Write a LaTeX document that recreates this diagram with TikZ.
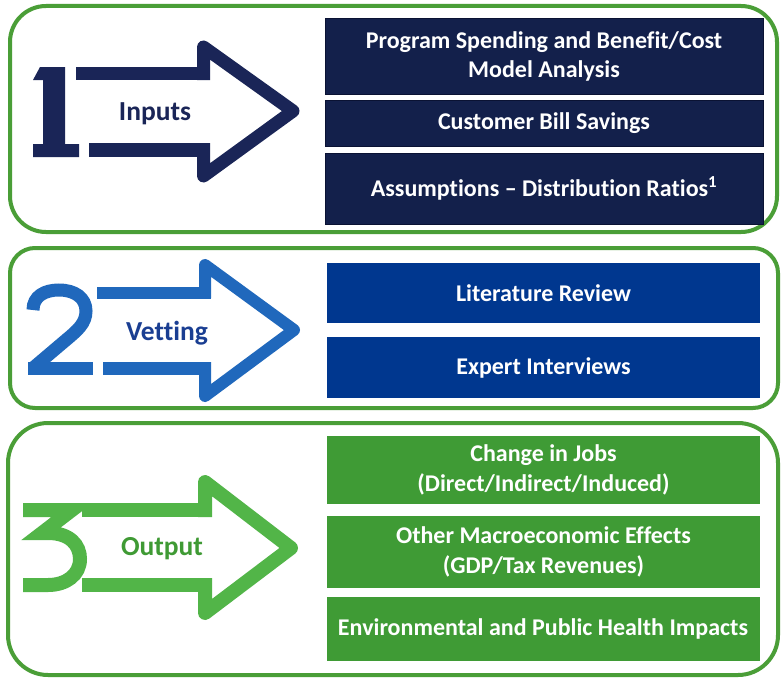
\documentclass[tikz,border=0pt]{standalone}
\usepackage{fontspec}
\setmainfont{Carlito}[Ligatures=NoCommon]
\definecolor{panelgreen}{HTML}{4A9E37}
\definecolor{navybox}{HTML}{13204B}
\definecolor{navyedge}{HTML}{0A1233}
\definecolor{navyarrow}{HTML}{1A2557}
\definecolor{bluebox}{HTML}{00378F}
\definecolor{bluearrow}{HTML}{2068BC}
\definecolor{bluetext}{HTML}{1A3E92}
\definecolor{greenbox}{HTML}{3F9B35}
\definecolor{greenarrow}{HTML}{52B548}
\definecolor{greentext}{HTML}{3F9A34}
\begin{document}
\begin{tikzpicture}[x=1pt,y=-1pt,
  panel/.style={draw=panelgreen,line width=4},
  box/.style={rectangle,inner sep=0,align=center,text=white,
    font=\bfseries\fontsize{24}{29.5}\selectfont},
  navy/.style={box,fill=navybox,draw=navyedge,line width=1},
  blue/.style={box,fill=bluebox},
  green/.style={box,fill=greenbox},
  label/.style={font=\bfseries\fontsize{27.5}{31}\selectfont,inner sep=0},
  head/.style={line join=round,line cap=butt},
  digit/.style={line join=miter,line cap=butt}]
\useasboundingbox (0,0) rectangle (781,677);
\fill[white] (0,0) rectangle (781,677);

% panels
\draw[panel,rounded corners=36] (10,6) rectangle (777,232);
\draw[panel,rounded corners=25] (10,248) rectangle (778,408);
\draw[panel,rounded corners=40] (8,423) rectangle (778,675);

% ---------- arrow 1 ----------
\fill[navyarrow] (33,80) -- (40,67) -- (65,67) -- (65,144) -- (79,144) -- (79,157)
  -- (33,157) -- (33,144) -- (43,144) -- (43,80) -- cycle;
\draw[navyarrow,head,line width=13] (203.5,80) -- (203.5,47) -- (293,111) -- (203.5,176) -- (203.5,143);
\draw[navyarrow,line width=13] (76,73.5) -- (210,73.5);
\draw[navyarrow,line width=14] (89,150) -- (210,150);
\node[label,text=navyarrow] (lin) at (155,114) {Inputs};

% ---------- arrow 2 ----------
\draw[bluearrow,digit,line width=13] (33,310) .. controls (33,296) and (45,290) .. (59,290)
  .. controls (75,290) and (86,298) .. (86,311) .. controls (86,323) and (78,330) .. (66,340)
  -- (33,368);
\draw[bluearrow,line width=13] (28,368) -- (93,368);
\draw[bluearrow,head,line width=12] (205,298) -- (205,265) -- (294,330) -- (205,396) -- (205,362);
\draw[bluearrow,line width=12] (97,292.5) -- (211,292.5);
\draw[bluearrow,line width=13] (103,368) -- (211,368);
\node[label,text=bluetext] (lvet) at (167,333) {Vetting};

% ---------- arrow 3 ----------
\draw[greenarrow,digit,line width=14] (23,510) -- (72,510) -- (42,533) -- (48,533)
  .. controls (70,533) and (80,545) .. (80,559) .. controls (80,575) and (66,585) .. (48,585)
  -- (23,585);
\draw[greenarrow,head,line width=14] (205,517) -- (205,482) -- (291,548) -- (205,613) -- (205,578);
\draw[greenarrow,line width=14] (82,510) -- (212,510);
\draw[greenarrow,line width=14] (82,585) -- (212,585);
\node[label,text=greentext] (lout) at (162,549) {Output};

% ---------- boxes ----------
\node[navy,minimum width=438,minimum height=75] (b11) at (544,56.5)
  {Program Spending and Benefit/Cost\\Model Analysis};
\node[navy,minimum width=438,minimum height=46] (b12) at (544,123) {Customer Bill Savings};
\node[navy,minimum width=438,minimum height=71] (b13) at (544,188.5)
  {Assumptions -- Distribution Ratios\textsuperscript{1}};

\node[blue,minimum width=433,minimum height=60] (b21) at (543.5,293) {Literature Review};
\node[blue,minimum width=433,minimum height=61] (b22) at (543.5,367.5) {Expert Interviews};

\node[green,minimum width=433,minimum height=68] (b31) at (543.5,470)
  {Change in Jobs\\(Direct/Indirect/Induced)};
\node[green,minimum width=433,minimum height=72] (b32) at (543.5,552)
  {Other Macroeconomic Effects\\(GDP/Tax Revenues)};
\node[green,minimum width=433,minimum height=64] (b33) at (543,629)
  {Environmental and Public Health Impacts};
\end{tikzpicture}
\end{document}
